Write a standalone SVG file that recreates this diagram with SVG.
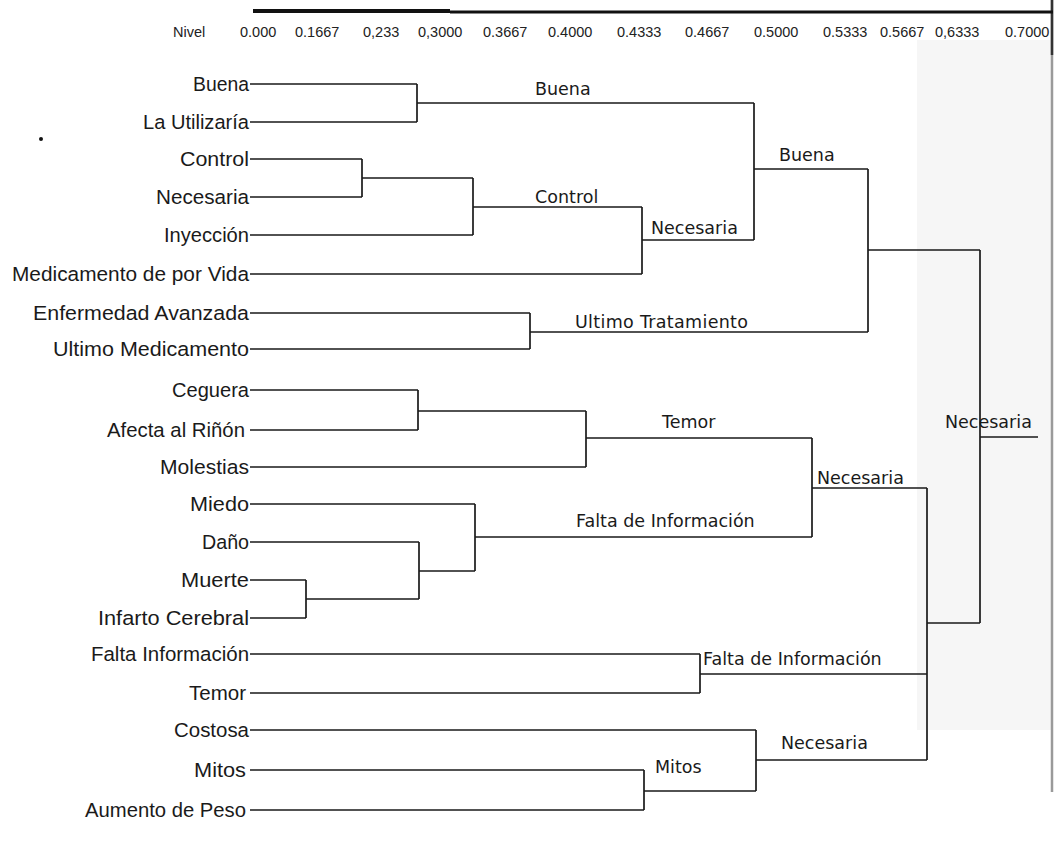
<svg xmlns="http://www.w3.org/2000/svg" width="1055" height="841" viewBox="0 0 1055 841">
<style>
.leaf{font-family:"Liberation Sans",Arial,sans-serif;font-size:20.5px;fill:#1a1a1a;text-anchor:end}
.lbl{font-family:"DejaVu Sans",Verdana,sans-serif;font-size:17.5px;fill:#1a1a1a}
.hdr{font-family:"Liberation Sans",Arial,sans-serif;font-size:14.5px;fill:#222}
.c{fill:none;stroke:#1a1a1a;stroke-width:1.7}
</style>
<rect x="0" y="0" width="1055" height="841" fill="#ffffff"/>
<rect x="917" y="40" width="134" height="690" fill="#f6f6f6"/>
<line x1="1052" y1="0" x2="1052" y2="792" stroke="#9a9a9a" stroke-width="2.5"/>
<line x1="1052" y1="0" x2="1052" y2="55" stroke="#333" stroke-width="2.5"/>
<g id="header">
<line x1="253" y1="11" x2="450" y2="11" stroke="#111" stroke-width="4"/>
<line x1="450" y1="12" x2="1053" y2="12" stroke="#111" stroke-width="3"/>
<text class="hdr" x="173" y="37">Nivel</text>
<text class="hdr" x="240" y="37">0.000</text>
<text class="hdr" x="295" y="37">0.1667</text>
<text class="hdr" x="363" y="37">0,233</text>
<text class="hdr" x="418" y="37">0,3000</text>
<text class="hdr" x="483" y="37">0.3667</text>
<text class="hdr" x="548" y="37">0.4000</text>
<text class="hdr" x="617" y="37">0.4333</text>
<text class="hdr" x="685" y="37">0.4667</text>
<text class="hdr" x="754" y="37">0.5000</text>
<text class="hdr" x="823" y="37">0.5333</text>
<text class="hdr" x="880" y="37">0.5667</text>
<text class="hdr" x="935" y="37">0,6333</text>
<text class="hdr" x="1005" y="37">0.7000</text>
</g>
<circle cx="41" cy="139" r="2" fill="#111"/>
<g id="leaves">
<g id="n-buena"><text class="leaf" x="249" y="91" textLength="56" lengthAdjust="spacingAndGlyphs">Buena</text></g>
<g id="n-utilizaria"><text class="leaf" x="249" y="129" textLength="106" lengthAdjust="spacingAndGlyphs">La Utilizaría</text></g>
<g id="n-control"><text class="leaf" x="249" y="166" textLength="69" lengthAdjust="spacingAndGlyphs">Control</text></g>
<g id="n-necesaria"><text class="leaf" x="249" y="204" textLength="93" lengthAdjust="spacingAndGlyphs">Necesaria</text></g>
<g id="n-inyeccion"><text class="leaf" x="249" y="242" textLength="85" lengthAdjust="spacingAndGlyphs">Inyección</text></g>
<g id="n-medicamento"><text class="leaf" x="249" y="281" textLength="237" lengthAdjust="spacingAndGlyphs">Medicamento de por Vida</text></g>
<g id="n-enfermedad"><text class="leaf" x="249" y="320" textLength="216" lengthAdjust="spacingAndGlyphs">Enfermedad Avanzada</text></g>
<g id="n-ultimo"><text class="leaf" x="249" y="356" textLength="196" lengthAdjust="spacingAndGlyphs">Ultimo Medicamento</text></g>
<g id="n-ceguera"><text class="leaf" x="249" y="397" textLength="77" lengthAdjust="spacingAndGlyphs">Ceguera</text></g>
<g id="n-afecta"><text class="leaf" x="245" y="437" textLength="138" lengthAdjust="spacingAndGlyphs">Afecta al Riñón</text></g>
<g id="n-molestias"><text class="leaf" x="249" y="474" textLength="89" lengthAdjust="spacingAndGlyphs">Molestias</text></g>
<g id="n-miedo"><text class="leaf" x="249" y="511" textLength="59" lengthAdjust="spacingAndGlyphs">Miedo</text></g>
<g id="n-dano"><text class="leaf" x="249" y="549" textLength="47" lengthAdjust="spacingAndGlyphs">Daño</text></g>
<g id="n-muerte"><text class="leaf" x="249" y="587" textLength="68" lengthAdjust="spacingAndGlyphs">Muerte</text></g>
<g id="n-infarto"><text class="leaf" x="249" y="625" textLength="151" lengthAdjust="spacingAndGlyphs">Infarto Cerebral</text></g>
<g id="n-falta"><text class="leaf" x="249" y="661" textLength="158" lengthAdjust="spacingAndGlyphs">Falta Información</text></g>
<g id="n-temor"><text class="leaf" x="246" y="700" textLength="57" lengthAdjust="spacingAndGlyphs">Temor</text></g>
<g id="n-costosa"><text class="leaf" x="249" y="737" textLength="75" lengthAdjust="spacingAndGlyphs">Costosa</text></g>
<g id="n-mitos"><text class="leaf" x="246" y="777" textLength="52" lengthAdjust="spacingAndGlyphs">Mitos</text></g>
<g id="n-aumento"><text class="leaf" x="246" y="817" textLength="161" lengthAdjust="spacingAndGlyphs">Aumento de Peso</text></g>
</g>
<g id="clusters">
<g id="k-buena1"><text class="lbl" x="535" y="95">Buena</text></g>
<g id="k-control"><text class="lbl" x="535" y="203">Control</text></g>
<g id="k-necesaria1"><text class="lbl" x="651" y="234">Necesaria</text></g>
<g id="k-buena2"><text class="lbl" x="779" y="161">Buena</text></g>
<g id="k-ultimo"><text class="lbl" x="575" y="328" textLength="173" lengthAdjust="spacing">Ultimo  Tratamiento</text></g>
<g id="k-temor"><text class="lbl" x="662" y="428">Temor</text></g>
<g id="k-falta1"><text class="lbl" x="576" y="527">Falta de Información</text></g>
<g id="k-necesaria2"><text class="lbl" x="817" y="484">Necesaria</text></g>
<g id="k-falta2"><text class="lbl" x="703" y="665">Falta de Información</text></g>
<g id="k-mitos"><text class="lbl" x="655" y="773">Mitos</text></g>
<g id="k-necesaria3"><text class="lbl" x="781" y="749">Necesaria</text></g>
<g id="k-root"><text class="lbl" x="945" y="428">Necesaria</text></g>
</g>
<g id="connectors" class="c">
<path class="c" d="M250 84H417M250 122H417M417 84V122M417 103H754"/>
<path class="c" d="M250 159H362M250 197H362M362 159V197M362 178H473M250 235H473M473 178V235M473 207H642M250 274H642M642 207V274M642 240H754M754 103V240M754 169H868"/>
<path class="c" d="M250 313H530M250 349H530M530 313V349M530 332H868M868 169V332M868 250H980"/>
<path class="c" d="M250 390H418M250 430H418M418 390V430M418 411H586M250 467H586M586 411V467M586 438H812"/>
<path class="c" d="M250 580H306M250 618H306M306 580V618M306 599H419M250 542H419M419 542V599M419 571H475M250 504H475M475 504V571M475 537H812M812 438V537M812 488H927"/>
<path class="c" d="M250 654H700M250 693H700M700 654V693M700 674H927"/>
<path class="c" d="M250 770H644M250 810H644M644 770V810M644 791H756M250 730H756M756 730V791M756 760H927"/>
<path class="c" d="M927 488V760M927 623H980M980 250V623M980 437H1038"/>
</g>
</svg>
